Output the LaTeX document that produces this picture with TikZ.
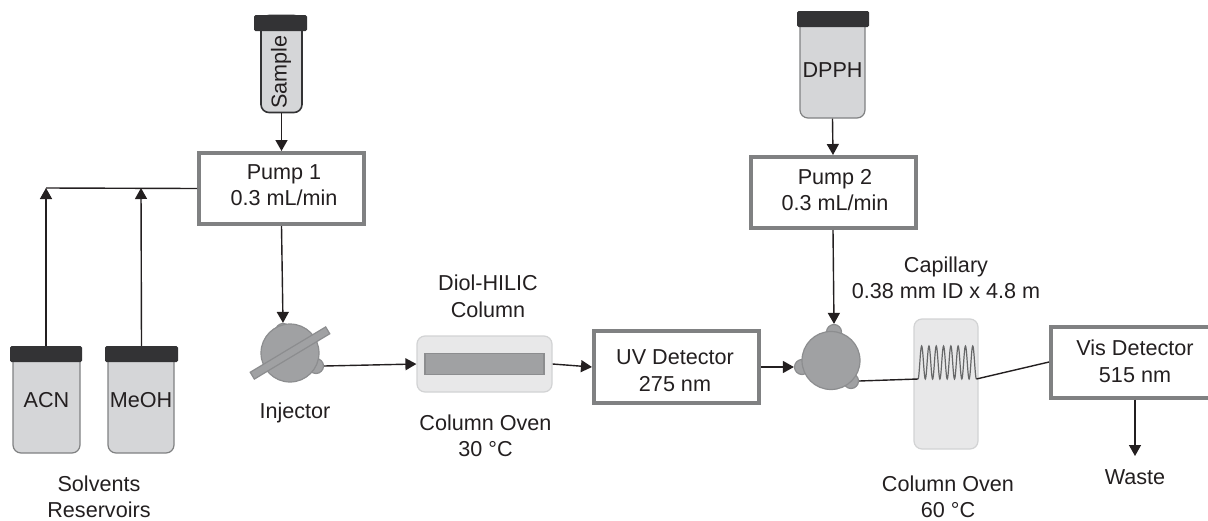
\documentclass[tikz,border=0pt]{standalone}
\usepackage{fontspec}
\setmainfont{Liberation Sans}
\usepackage{tikz}
\usetikzlibrary{arrows.meta, positioning}
\definecolor{inkdark}{HTML}{231F20}
\definecolor{capdark}{HTML}{333335}
\definecolor{boxgray}{HTML}{808182}
\definecolor{vialfill}{HTML}{D5D6D8}
\definecolor{valvefill}{HTML}{A0A1A3}
\definecolor{valveline}{HTML}{8C8D8F}
\definecolor{ovenfill}{HTML}{E8E8E9}
\definecolor{ovenline}{HTML}{D2D3D4}

\begin{document}
\begin{tikzpicture} [x=1pt, y=-1pt, on grid, text=inkdark, font=\fontsize{21.6}{26.5}\selectfont,
	flow/.style ={line width=1.4pt, draw=inkdark, -{Triangle[length=11pt,width=12pt]}},
	pipe/.style ={line width=1.4pt, draw=inkdark},
	unit/.style ={draw=boxgray, line width=4pt, fill=white, minimum width=165pt, minimum height=71pt},
	vial/.style ={draw=boxgray, line width=1.2pt, fill=vialfill, rounded corners=8pt, inner sep=0pt},
	vialcap/.style ={fill=capdark, rounded corners=1.5pt, inner sep=0pt},
	valve/.style ={circle, draw=valveline, line width=1.2pt, fill=valvefill, minimum size=58pt, inner sep=0pt},
	bump/.style ={circle, draw=valveline, line width=1.2pt, fill=valvefill, minimum size=15pt, inner sep=0pt},
	oven/.style ={draw=ovenline, line width=1.2pt, fill=ovenfill, rounded corners=8pt, inner sep=0pt},
	caption/.style ={align=center, inner sep=0pt}]
	\useasboundingbox (0,0) rectangle (1208,520);
	% left branch
	\node[unit] (pump1) at (281.5,188.5) {};
	\node[caption] (pump1text) at (284,185) {Pump 1\\0.3 mL/min};
	\node[vial, minimum width=41pt, minimum height=97pt, draw=capdark, line width=1.6pt] (samplevial) [above=124.5pt of pump1] {};
	\node[vialcap, minimum width=53pt, minimum height=16pt] (samplecap) at (280.5,23) {};
	\node[rotate=90, inner sep=0pt] (sampletext) at (281,72) {Sample};
	\node[vial, minimum width=67pt, minimum height=106pt] (acnvial) at (46.5,400) {ACN};
	\node[vial, minimum width=66pt, minimum height=106pt] (meohvial) [right=94.5pt of acnvial] {MeOH};
	\node[vialcap, minimum width=72pt, minimum height=16pt] (acncap) at (46,354) {};
	\node[vialcap, minimum width=73pt, minimum height=16pt] (meohcap) at (141.5,354) {};
	\coordinate (acntop) at (46,188);
	\coordinate (meohtop) at (141,188);
	\node[caption] (solvents) at (99,497) {Solvents\\Reservoirs};
	\path (pump1.west) edge[pipe] (acntop);
	\path (acncap.north) edge[flow] (acntop);
	\path (meohcap.north) edge[flow] (meohtop);
	\path (samplevial.south) edge[flow] (pump1.north);
	% injector
	\node[bump] (injtop) at (283,331) {};
	\node[bump] (injright) at (316,366) {};
	\node[valve] (injector) at (290,353) {};
	\node[rotate=31, fill=valvefill, draw=valveline, line width=1.2pt, minimum width=88pt, minimum height=8pt, inner sep=0pt] (injbar) at (290,353) {};
	\node[caption] (injtext) [below=59.5pt of injector, xshift=5pt] {Injector};
	\path (pump1.south) edge[flow] (injtop.north);
	% first oven
	\node[oven, minimum width=135pt, minimum height=56pt] (oven1) at (484.5,364) {};
	\node[draw=valveline, line width=1.2pt, fill=valvefill, minimum width=119pt, minimum height=21pt, inner sep=0pt] (column) at (oven1) {};
	\node[caption] (columntext) [above=67.5pt of oven1, xshift=3.5pt] {Diol-HILIC\\Column};
	\node[caption] (oven1text) [below=72pt of oven1, xshift=1pt] {Column Oven\\30 °C};
	\node[unit, minimum height=72pt] (uv) at (676.5,367) {};
	\node[caption] (uvtext) at (675,370.5) {UV Detector\\275 nm};
	\path (injright.east) edge[flow] (oven1.west);
	\path (oven1.east) edge[flow] (uv.west);
	% right branch
	\node[unit] (pump2) at (833,192.5) {};
	\node[caption] (pump2text) at (835,190) {Pump 2\\0.3 mL/min};
	\node[vial, minimum width=65pt, minimum height=106pt] (dpphvial) at (832.5,65) {};
	\node[vialcap, minimum width=72pt, minimum height=16pt] (dpphcap) at (833,19) {};
	\node[inner sep=0pt] (dpphtext) at (832.5,70) {DPPH};
	\path (dpphvial.south) edge[flow] (pump2.north);
	\node[bump] (valvetop) at (834,332) {};
	\node[bump] (valveleft) at (802,367) {};
	\node[bump] (valveright) at (851,381) {};
	\node[valve] (mixer) at (831,360.5) {};
	\path (pump2.south) edge[flow] (valvetop.north);
	\path (uv.east) edge[flow] (valveleft.west);
	% second oven with the capillary
	\node[oven, minimum width=64pt, minimum height=130pt] (oven2) at (946,384) {};
	\coordinate (coilin) at (918,379);
	\coordinate (coilout) at (976.4,379);
	\draw[line width=1.2pt, draw=boxgray!80!black] [shift={(coilin)}] plot[domain=0:8, samples=193, smooth] ({7.3*\x},{-16.5*(1-cos(360*\x))});
	\node[caption] (capillary) [above=106pt of oven2] {Capillary\\0.38 mm ID x 4.8 m};
	\node[caption] (oven2text) [below=113pt of oven2, xshift=2pt] {Column Oven\\60 °C};
	\node[unit, minimum width=168pt] (vis) at (1135,362) {};
	\node[caption] (vistext) at (1135,361.5) {Vis Detector\\515 nm};
	\coordinate (wasteend) at (1135,456);
	\node[caption] (waste) at (1135,477) {Waste};
	\path (valveright.east) edge[pipe] (coilin);
	\path (coilout) edge[pipe] (vis.west);
	\path (vis.south) edge[flow] (wasteend);
\end{tikzpicture}
\end{document}
